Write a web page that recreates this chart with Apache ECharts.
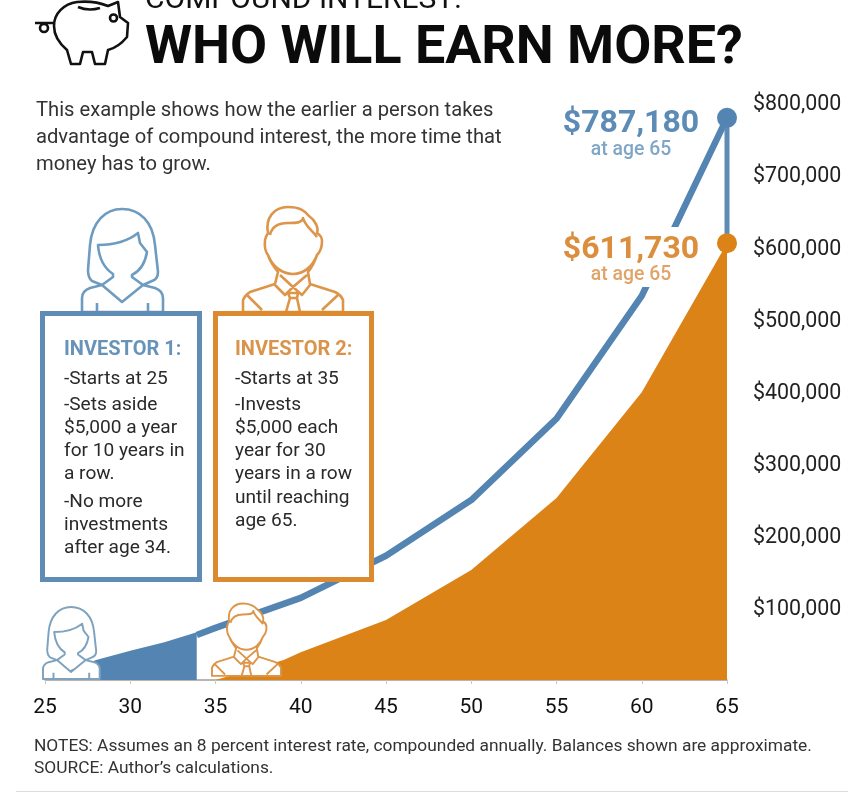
<!DOCTYPE html>
<html><head><meta charset="utf-8">
<style>html,body{margin:0;padding:0;background:#fff}#c{width:865px;height:800px}</style>
<script src="https://cdn.jsdelivr.net/npm/echarts@6/dist/echarts.min.js"></script>
</head><body><div id="c"></div>
<script>
const ageTicks = [25,30,35,40,45,50,55,60,65];
const moneyTicks = [100000,200000,300000,400000,500000,600000,700000,800000];
const inv1ContribAges = [25,28,30,32,33.9];
const inv1ContribVals = [0,28000,41000,53000,67000];
const inv1GrowthAges = [33.9,35,40,45,50,55,60,65];
const inv1GrowthVals = [63000,73000,115000,174000,252000,366000,538000,787180];
const inv2Ages = [35,39,40,45,50,55,60,65];
const inv2Vals = [0,28000,39000,84000,154000,255000,403000,611730];

const BLUE='#5485B2', ORANGE='#DC8318', F='Roboto';
const pair=(a,b)=>a.map((x,i)=>[x,b[i]]);

const womanD='M82 312L82 298Q82 291 90 288L102 285L113 277L113 274C104 268 99 258 98 245C115 245 128 241 138 233L140 243L147 252C145 264 140 271 132 275L132 277L143 285L155 288Q163 291 163 298L163 312ZM102 285L122 302L143 285M97 303L97 312M148 303L148 312M102 285L92 281Q88 278 88 270L90 245C92 222 105 209 122 209C140 209 153 222 155 245L158 272Q158 279 152 281L143 285';
const manD='M243 312L243 300Q245 295 250 292L275 284L278 272C274 267 270 261 268 255Q264 250 265 240Q266 236 268 233C265 218 274 207 288 207C300 207 305 211 309 216C315 220 319 228 317 233Q322 236 322 241Q322 250 317 255C315 261 312 267 308 272L310 284L335 292Q341 295 343 300L343 312ZM270 235C272 226 280 223 288 223C296 223 302 223 303 218C305 226 312 230 317 237M268 255C272 266 282 274 293 274C304 274 313 266 317 255M275 285L285 295L293 287L302 295L310 285M280 275L293 287L307 275M288 293L298 293L297 298L290 298ZM290 298L286 312M297 298L300 312M247 295L262 310M338 295L322 310';
const pigD='M77 2C64 4 54 13 54 26C54 36 60 44 67 50L71 64L80 64L83 52L92 52L95 64L105 64L108 50C116 48 122 43 127 37L128 23L120 17L118 2L108 6C98 2 87 1 77 2ZM78 7C85 10 93 10 100 8M54 23L35 23M117 18A3.5 3.5 0 1 1 110 18A3.5 3.5 0 1 1 117 18M48 28A4 4 0 1 1 40 28A4 4 0 1 1 48 28';
echarts.graphic.registerShape('womanIcon',echarts.graphic.extendPath(womanD,{}));
echarts.graphic.registerShape('manIcon',echarts.graphic.extendPath(manD,{}));
echarts.graphic.registerShape('pigIcon',echarts.graphic.extendPath(pigD,{}));

const txt=(t,x,y,size,color,weight,align)=>({type:'text',x,y,z:30,silent:true,style:{text:t,x:0,y:0,font:(weight||'400')+' '+size+'px '+F,fill:color,textAlign:align||'left',textVerticalAlign:'middle'}});
const icon=(type,color,x,y,s,lw)=>({type,x,y,scaleX:s,scaleY:s,z:20,silent:true,style:{stroke:color,fill:'#fff',lineWidth:lw,lineJoin:'round'}});
const box=(x,w,color)=>({type:'rect',z:25,silent:true,shape:{x,y:313.5,width:w,height:266},style:{fill:'#fff',stroke:color,lineWidth:5}});
const white=(x,y,w,h)=>({type:'rect',z:15,silent:true,shape:{x,y,width:w,height:h},style:{fill:'#fff'}});

const body1=[['-Starts at 25',379],['-Sets aside',405],['$5,000 a year',428],['for 10 years in',451],['a row.',474],['-No more',502],['investments',525],['after age 34.',548]];
const body2=[['-Starts at 35',379],['-Invests',405],['$5,000 each',428],['year for 30',451],['years in a row',474],['until reaching',498],['age 65.',521]];

const graphics=[
 {type:'pigIcon',z:20,silent:true,style:{stroke:'#111',fill:'#fff',lineWidth:2.6,lineJoin:'round'}},
 txt('COMPOUND INTEREST:',145,0.7,30,'#111','400'),
 txt('WHO WILL EARN MORE?',145,49.3,53.8,'#0b0b0b','700'),
 txt('This example shows how the earlier a person takes',36,111,20.2,'#333'),
 txt('advantage of compound interest, the more time that',36,138,20.2,'#333'),
 txt('money has to grow.',36,165,20.2,'#333'),
 icon('womanIcon','#6E9CC0',0,0,1,2.6),
 icon('manIcon','#DD954A',0,0,1,2.6),
 box(42.5,157,'#5E8CB4'), box(215.5,156,'#DB8A30'),
 txt('INVESTOR 1:',64,350,20,'#6893B8','700'),
 txt('INVESTOR 2:',235,350,20,'#D9934A','700'),
 ...body1.map(a=>txt(a[0],64,a[1],19.1,'#2a2a2a')),
 ...body2.map(a=>txt(a[0],235,a[1],19.1,'#2a2a2a')),
 white(560,100,130,60), white(556,227,144,60),
 txt('$787,180',631,123.5,32,'#5C8BB6','700','center'),
 txt('at age 65',631,150,19.4,'#7FA5C7','500','center'),
 txt('$611,730',631,249.5,32,'#DB8E3C','700','center'),
 txt('at age 65',631,275.5,19.4,'#E0A468','500','center'),
 icon('womanIcon','#7FA3BE',-14.4,460.6,0.7,2.8),
 icon('manIcon','#DD954A',44.3,460.6,0.69,2.8),
 txt('NOTES: Assumes an 8 percent interest rate, compounded annually. Balances shown are approximate.',34,747,17.35,'#333'),
 txt('SOURCE: Author\u2019s calculations.',34,769,17.35,'#333'),
 {type:'rect',z:5,silent:true,shape:{x:16,y:791,width:832,height:1},style:{fill:'#dcdcdc'}}
];

const chart=echarts.init(document.getElementById('c'),null,{renderer:'canvas'});
chart.setOption({
 animation:false,backgroundColor:'#fff',
 grid:{left:45,right:138,top:103,bottom:120},
 xAxis:{type:'value',min:25,max:65,interval:5,splitLine:{show:false},
  axisLine:{lineStyle:{color:'#a39c96',width:1.5}},axisTick:{length:4,lineStyle:{color:'#c8c8c8'}},
  axisLabel:{fontFamily:F,fontSize:21,color:'#111',margin:17,customValues:ageTicks,hideOverlap:false}},
 yAxis:[
  {type:'value',min:0,max:808000,show:false,splitLine:{show:false}},
  {type:'value',position:'right',min:2800,max:802800,splitLine:{show:false},axisLine:{show:false},axisTick:{show:false},
   axisLabel:{fontFamily:F,fontSize:21.4,color:'#222',margin:26,align:'left',verticalAlign:'middle',customValues:moneyTicks,hideOverlap:false,showMinLabel:true,showMaxLabel:true,
    formatter:v=>'$'+Number(v).toLocaleString('en-US')}}
 ],
 series:[
  {type:'line',yAxisIndex:0,data:pair(inv2Ages,inv2Vals),symbol:'none',z:4,lineStyle:{width:0},areaStyle:{color:ORANGE,opacity:1}},
  {type:'line',yAxisIndex:0,data:pair(inv1ContribAges,inv1ContribVals),symbol:'none',z:4,lineStyle:{width:0},areaStyle:{color:BLUE,opacity:1}},
  {type:'line',yAxisIndex:0,data:pair(inv1GrowthAges,inv1GrowthVals),symbol:'none',z:3,lineStyle:{color:BLUE,width:6.5,join:'round'}},
  {type:'line',yAxisIndex:0,data:[[65,inv1GrowthVals.at(-1)],[65,inv2Vals.at(-1)]],symbol:'none',z:3,lineStyle:{color:'#5E8CB4',width:5}},
  {type:'scatter',yAxisIndex:0,data:[[65,inv1GrowthVals.at(-1)]],symbolSize:20,z:6,itemStyle:{color:BLUE,opacity:1}},
  {type:'scatter',yAxisIndex:0,data:[[65,inv2Vals.at(-1)]],symbolSize:20,z:6,itemStyle:{color:ORANGE,opacity:1}}
 ],
 graphic:{elements:graphics}
});
</script></body></html>
